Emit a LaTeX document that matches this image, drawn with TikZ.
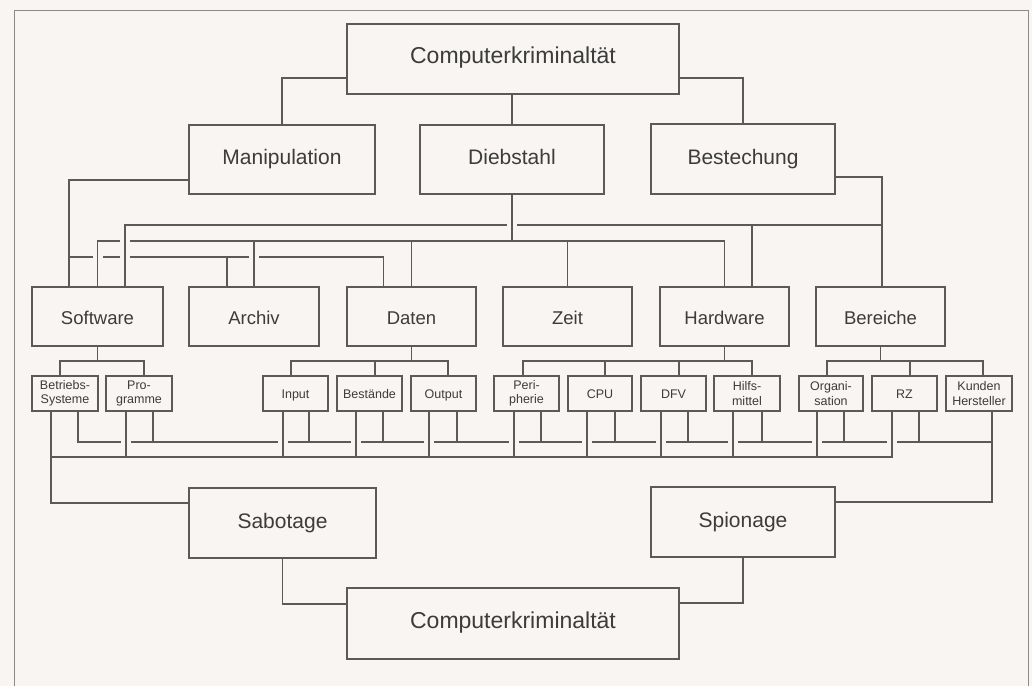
\documentclass[tikz,border=0pt]{standalone}
\usepackage{fontspec}
\setmainfont{Liberation Sans}
\usetikzlibrary{calc}
\definecolor{paper}{HTML}{F8F5F2}
\definecolor{ink}{HTML}{5A5A5A}
\definecolor{txt}{HTML}{3C3C3C}
\definecolor{framecol}{HTML}{8A8A8A}
\newcommand\gapat[1]{\fill[paper] ($(#1)+(-5,-2.6)$) rectangle ($(#1)+(5,2.6)$);}
\begin{document}
\begin{tikzpicture}[x=1pt,y=-1pt,
  ln/.style={draw=ink, line width=1.3pt},
  box/.style={draw=ink, line width=1.3pt, fill=paper, inner sep=0pt, outer sep=0pt, text=txt, align=center},
  big/.style={box, text height=15pt, text depth=5.5pt, minimum width=332pt, minimum height=70pt, font=\fontsize{23}{27}\selectfont},
  mid/.style={box, text height=15pt, text depth=5pt, minimum width=185pt, minimum height=69pt, font=\fontsize{21}{25}\selectfont},
  cat/.style={box, text height=18pt, text depth=2.8pt, minimum width=130pt, minimum height=59pt, font=\fontsize{18.5}{22}\selectfont},
  sub/.style={box, minimum width=65pt, minimum height=35pt, font=\fontsize{12.5}{14.5}\selectfont},
  one/.style={text height=11pt, text depth=2pt}
]
\useasboundingbox (0,0) rectangle (1032,686);
\fill[paper] (0,0) rectangle (1032,686);
\draw[framecol, line width=1pt] (14,686) -- (14,10) -- (1028,10) -- (1028,686);

% nodes
\node[big] (top) at (513,59) {Computerkriminaltät};
\node[mid, minimum width=186pt] (manip) at (282,159.5) {Manipulation};
\node[mid, minimum width=184pt] (dieb) at (512,159.5) {Diebstahl};
\node[mid, minimum width=184pt, minimum height=70pt] (best) at (743,159) {Bestechung};

\node[cat, minimum width=131pt] (soft) at (97.5,316.5) {Software};
\node[cat] (arch) at (254,316.5) {Archiv};
\node[cat, minimum width=129pt] (daten) at (411.5,316.5) {Daten};
\node[cat, minimum width=129pt] (zeit) at (567.5,316.5) {Zeit};
\node[cat, minimum width=129pt] (hard) at (724.5,316.5) {Hardware};
\node[cat, minimum width=129pt] (ber) at (880.5,316.5) {Bereiche};

\node[sub, minimum width=66pt] (bs) at (65,393.5) {Betriebs-\\Systeme};
\node[sub, minimum width=66pt] (pg) at (139,393.5) {Pro-\\gramme};
\node[sub, one] (inp) at (295.5,393.5) {Input};
\node[sub, one] (bes) at (369.5,393.5) {Bestände};
\node[sub, one] (out) at (443.5,393.5) {Output};
\node[sub] (per) at (526.5,393.5) {Peri-\\pherie};
\node[sub, one, minimum width=64pt] (cpu) at (600,393.5) {CPU};
\node[sub, one] (dfv) at (673.5,393.5) {DFV};
\node[sub, minimum width=66pt] (hilf) at (747,393.5) {Hilfs-\\mittel};
\node[sub, minimum width=64pt] (org) at (831,393.5) {Organi-\\sation};
\node[sub, one] (rz) at (904.5,393.5) {RZ};
\node[sub, minimum width=66pt] (kun) at (979,393.5) {Kunden\\Hersteller};

\node[mid, minimum width=187pt, minimum height=70pt] (sab) at (282.5,523) {Sabotage};
\node[mid, minimum width=184pt, minimum height=70pt] (spi) at (743,522) {Spionage};
\node[big, minimum height=71pt] (bot) at (513,623.5) {Computerkriminaltät};

% bus levels
\coordinate (yB) at (0,225);
\coordinate (yD) at (0,241);
\coordinate (yM) at (0,257);
\coordinate (yS) at (0,361);
\coordinate (yP) at (0,442);
\coordinate (yQ) at (0,457);

% top level
\draw[ln] ([yshift=-19pt]top.west) -| (manip.north);
\draw[ln] (dieb.north |- top.south) -- (dieb.north);
\draw[ln] ([yshift=-19pt]top.east) -| (best.north);

% Manipulation
\coordinate (m1) at ([xshift=-28.5pt]soft.north);
\coordinate (m2) at ([xshift=-27pt]arch.north);
\coordinate (m3) at ([xshift=-28pt]daten.north);
\draw[ln] ([yshift=-20.5pt]manip.west) -| (m1);
\draw[ln] (m1 |- yM) -| (m3);
\draw[ln] (m2 |- yM) -- (m2);

\coordinate (b0) at ([xshift=1.5pt]ber.north);
\coordinate (b1) at ([xshift=27.5pt]soft.north);
\coordinate (b2) at ([xshift=27.5pt]hard.north);

\gapat{soft.north |- yM}
\gapat{b1 |- yM}
\gapat{arch.north |- yM}

% Diebstahl
\draw[ln] (soft.north) |- (hard.north |- yD) -- (hard.north);
\foreach \n in {arch,daten,zeit} {\draw[ln] (\n.north |- yD) -- (\n.north);}
\gapat{b1 |- yD}

% Bestechung
\draw[ln] ([yshift=-18pt]best.east) -| (b0);
\draw[ln] (b0 |- yB) -| (b1);
\draw[ln] (b2 |- yB) -- (b2);
\gapat{dieb.south |- yB}
\draw[ln] (dieb.south) -- (dieb.south |- yD);

% children
\draw[ln] (soft.south) -- (soft.south |- yS);
\draw[ln] ([xshift=-5pt]bs.north) |- ([xshift=5pt]pg.north |- yS) -- ([xshift=5pt]pg.north);

\draw[ln] (daten.south) -- (daten.south |- yS);
\draw[ln] ([xshift=-4.5pt]inp.north) |- ([xshift=4.5pt]out.north |- yS) -- ([xshift=4.5pt]out.north);
\draw[ln] ([xshift=5.5pt]bes.north |- yS) -- ([xshift=5.5pt]bes.north);

\draw[ln] (hard.south) -- (hard.south |- yS);
\draw[ln] ([xshift=-3.5pt]per.north) |- ([xshift=5pt]hilf.north |- yS) -- ([xshift=5pt]hilf.north);
\draw[ln] ([xshift=5pt]cpu.north |- yS) -- ([xshift=5pt]cpu.north);
\draw[ln] ([xshift=5.5pt]dfv.north |- yS) -- ([xshift=5.5pt]dfv.north);

\draw[ln] (ber.south) -- (ber.south |- yS);
\draw[ln] ([xshift=-4pt]org.north) |- ([xshift=4pt]kun.north |- yS) -- ([xshift=4pt]kun.north);
\draw[ln] ([xshift=5.5pt]rz.north |- yS) -- ([xshift=5.5pt]rz.north);

% Spionage bus
\draw[ln] ([xshift=13pt]bs.south) |- ([xshift=13pt]kun.south |- yP);
\draw[ln] ([xshift=13pt]kun.south) |- ([yshift=20pt]spi.east);
\foreach \n/\s in {pg/14, inp/13.5, bes/13.5, out/13.5, per/14.5, cpu/15, dfv/14.5, hilf/15, org/13, rz/14.5}
  {\draw[ln] ([xshift=\s pt]\n.south) -- ([xshift=\s pt]\n.south |- yP);}

\foreach \n/\s in {pg/-13, inp/-12.5, bes/-13.5, out/-14.5, per/-12.5, cpu/-13, dfv/-12.5, hilf/-14, org/-14, rz/-12.5}
  {\gapat{[xshift=\s pt]\n.south |- yP}}

% Sabotage bus
\draw[ln] ([xshift=-12.5pt]rz.south) |- ([xshift=-14pt]bs.south |- yQ);
\draw[ln] ([xshift=-14pt]bs.south) |- ([yshift=20pt]sab.west);
\foreach \n/\s in {pg/-13, inp/-12.5, bes/-13.5, out/-14.5, per/-12.5, cpu/-13, dfv/-12.5, hilf/-14, org/-14}
  {\draw[ln] ([xshift=\s pt]\n.south) -- ([xshift=\s pt]\n.south |- yQ);}

% to bottom
\draw[ln] (sab.south) |- ([yshift=19.5pt]bot.west);
\draw[ln] (spi.south) |- ([yshift=20.5pt]bot.east);
\end{tikzpicture}
\end{document}
